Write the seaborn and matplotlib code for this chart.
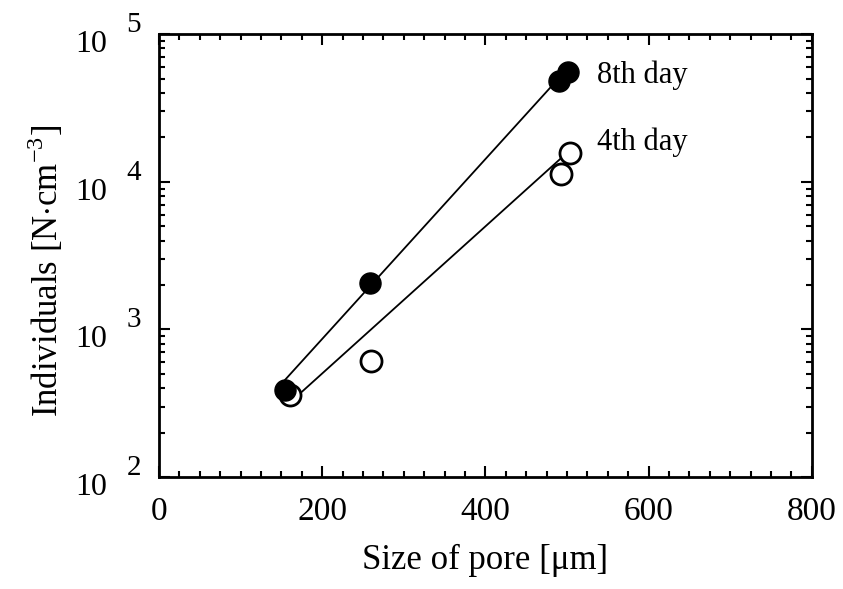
import matplotlib
matplotlib.use("Agg")
import matplotlib.pyplot as plt
import matplotlib.ticker as mticker
import matplotlib.transforms as mtransforms
import seaborn as sns
import pandas as pd

# pore size [um] vs individuals per cm^3
pore_8th = [155, 258, 490, 501]
count_8th = [390, 2060, 48000, 55300]
pore_4th = [160, 260, 493, 504]
count_4th = [360, 610, 11300, 15600]

# regression lines (end points)
fit_x_8th = [152, 482]
fit_y_8th = [440, 45000]
fit_x_4th = [164, 493]
fit_y_4th = [333, 14500]

y_exponents = [2, 3, 4, 5]

sns.set_style("ticks")
plt.rcParams["font.family"] = ["Liberation Serif", "DejaVu Serif"]
plt.rcParams["mathtext.fontset"] = "custom"
plt.rcParams["mathtext.rm"] = "Liberation Serif"
for key in ["text.color", "axes.labelcolor", "xtick.color", "ytick.color", "axes.edgecolor"]:
    plt.rcParams[key] = "black"

fig, ax = plt.subplots(figsize=(8.43, 5.89), dpi=100)
fig.subplots_adjust(left=0.1886, right=0.963, top=0.942, bottom=0.19)

df8 = pd.DataFrame({"x": pore_8th, "y": count_8th})
df4 = pd.DataFrame({"x": pore_4th, "y": count_4th})

sns.lineplot(x=fit_x_8th, y=fit_y_8th, color="black", linewidth=1.3, ax=ax)
sns.lineplot(x=fit_x_4th, y=fit_y_4th, color="black", linewidth=1.3, ax=ax)
sns.scatterplot(data=df4, x="x", y="y", s=230, facecolor="white",
                edgecolor="black", linewidth=2, ax=ax, zorder=3)
sns.scatterplot(data=df8, x="x", y="y", s=230, color="black",
                edgecolor="black", linewidth=1, ax=ax, zorder=4)

ax.set_yscale("log")
ax.set_xlim(0, 800)
ax.set_ylim(1e2, 1e5)

ax.xaxis.set_major_locator(mticker.MultipleLocator(200))
ax.xaxis.set_minor_locator(mticker.MultipleLocator(25))
ax.yaxis.set_major_locator(mticker.FixedLocator([10.0 ** e for e in y_exponents]))
ax.yaxis.set_minor_locator(mticker.LogLocator(base=10, subs=range(2, 10)))
ax.yaxis.set_major_formatter(mticker.FixedFormatter(["10"] * len(y_exponents)))
ax.yaxis.set_minor_formatter(mticker.NullFormatter())

ax.tick_params(which="both", direction="in", top=True, right=True, width=1.5)
ax.tick_params(which="major", length=8)
ax.tick_params(axis="x", which="major", labelsize=24, pad=14)
ax.tick_params(axis="y", which="major", labelsize=23, pad=37)
ax.tick_params(which="minor", length=4)
for sp in ax.spines.values():
    sp.set_linewidth(2)

# move the "10" a bit below its tick, like the scan
shift = mtransforms.ScaledTranslation(0, -7 / 100, fig.dpi_scale_trans)
for tick in ax.yaxis.get_major_ticks():
    tick.label1.set_transform(tick.label1.get_transform() + shift)

# exponents of the y tick labels, drawn large like the original
for e in y_exponents:
    ax.annotate(str(e), xy=(0, 10.0 ** e), xycoords=("axes fraction", "data"),
                xytext=(-13, 6.5), textcoords="offset points",
                ha="right", va="center", fontsize=21, annotation_clip=False)

ax.set_xlabel("Size of pore [μm]", fontsize=25)
ax.set_ylabel(r"Individuals [N$\cdot$cm$^{-3}$]", fontsize=25)
ax.xaxis.set_label_coords(0.5, -0.15)
ax.yaxis.set_label_coords(-0.142, 0.465)

ax.text(537, 52700, "8th day", fontsize=22, va="center")
ax.text(537, 18600, "4th day", fontsize=22, va="center")

plt.savefig("out.png", dpi=100)
